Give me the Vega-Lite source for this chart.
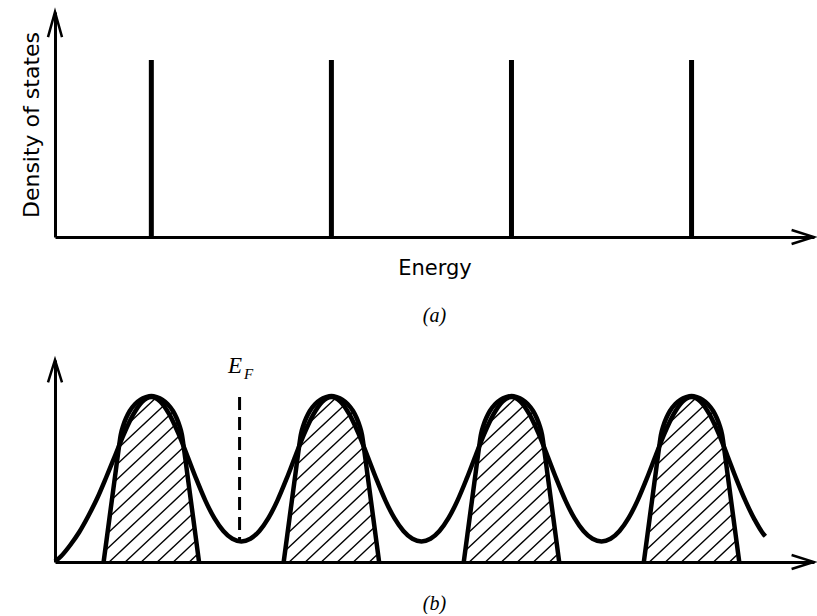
{
  "$schema": "https://vega.github.io/schema/vega-lite/v6.json",
  "background": "white",
  "padding": {"left": 20, "top": 7, "right": 0, "bottom": 0},
  "bounds": "flush",
  "spacing": 123,
  "config": {
    "view": {"stroke": null},
    "axis": {"domain": true, "domainColor": "black", "domainWidth": 3, "ticks": false, "labels": false, "grid": false,
             "titleFont": "DejaVu Sans", "titleFontWeight": "normal", "titleFontSize": 21, "titleColor": "black"},
    "title": {"font": "Liberation Serif", "fontStyle": "italic", "fontWeight": "normal", "fontSize": 20, "color": "black", "anchor": "middle"}
  },
  "datasets": {
    "levels": [
      {"energy": 0, "dos": 7.87}, {"energy": 10, "dos": 7.87}, {"energy": 20, "dos": 7.87}, {"energy": 30, "dos": 7.87}
    ],
    "curve": [
      {"energy": -5.35, "dos": 0.02}, {"energy": -5, "dos": 0.3}, {"energy": -4.5, "dos": 0.85}, {"energy": -4, "dos": 1.5},
      {"energy": -3.5, "dos": 2.3}, {"energy": -3, "dos": 3.2}, {"energy": -2.5, "dos": 4.25}, {"energy": -2, "dos": 5.35},
      {"energy": -1.5, "dos": 6.45}, {"energy": -1, "dos": 7.38}, {"energy": -0.5, "dos": 8.02}, {"energy": 0, "dos": 8.25},
      {"energy": 0.5, "dos": 8.02}, {"energy": 1, "dos": 7.38}, {"energy": 1.5, "dos": 6.43}, {"energy": 2, "dos": 5.3},
      {"energy": 2.5, "dos": 4.14}, {"energy": 3, "dos": 3.07}, {"energy": 3.5, "dos": 2.19}, {"energy": 4, "dos": 1.55},
      {"energy": 4.5, "dos": 1.16}, {"energy": 5, "dos": 1.03}, {"energy": 5.5, "dos": 1.16}, {"energy": 6, "dos": 1.55},
      {"energy": 6.5, "dos": 2.19}, {"energy": 7, "dos": 3.07}, {"energy": 7.5, "dos": 4.14}, {"energy": 8, "dos": 5.3},
      {"energy": 8.5, "dos": 6.43}, {"energy": 9, "dos": 7.38}, {"energy": 9.5, "dos": 8.02}, {"energy": 10, "dos": 8.25},
      {"energy": 10.5, "dos": 8.02}, {"energy": 11, "dos": 7.38}, {"energy": 11.5, "dos": 6.43}, {"energy": 12, "dos": 5.3},
      {"energy": 12.5, "dos": 4.14}, {"energy": 13, "dos": 3.07}, {"energy": 13.5, "dos": 2.19}, {"energy": 14, "dos": 1.55},
      {"energy": 14.5, "dos": 1.16}, {"energy": 15, "dos": 1.03}, {"energy": 15.5, "dos": 1.16}, {"energy": 16, "dos": 1.55},
      {"energy": 16.5, "dos": 2.19}, {"energy": 17, "dos": 3.07}, {"energy": 17.5, "dos": 4.14}, {"energy": 18, "dos": 5.3},
      {"energy": 18.5, "dos": 6.43}, {"energy": 19, "dos": 7.38}, {"energy": 19.5, "dos": 8.02}, {"energy": 20, "dos": 8.25},
      {"energy": 20.5, "dos": 8.02}, {"energy": 21, "dos": 7.38}, {"energy": 21.5, "dos": 6.43}, {"energy": 22, "dos": 5.3},
      {"energy": 22.5, "dos": 4.14}, {"energy": 23, "dos": 3.07}, {"energy": 23.5, "dos": 2.19}, {"energy": 24, "dos": 1.55},
      {"energy": 24.5, "dos": 1.16}, {"energy": 25, "dos": 1.03}, {"energy": 25.5, "dos": 1.16}, {"energy": 26, "dos": 1.55},
      {"energy": 26.5, "dos": 2.19}, {"energy": 27, "dos": 3.07}, {"energy": 27.5, "dos": 4.14}, {"energy": 28, "dos": 5.3},
      {"energy": 28.5, "dos": 6.43}, {"energy": 29, "dos": 7.38}, {"energy": 29.5, "dos": 8.02}, {"energy": 30, "dos": 8.25},
      {"energy": 30.5, "dos": 8.02}, {"energy": 31, "dos": 7.38}, {"energy": 31.5, "dos": 6.43}, {"energy": 32, "dos": 5.29},
      {"energy": 32.5, "dos": 4.12}, {"energy": 33, "dos": 3.04}, {"energy": 33.5, "dos": 2.12}, {"energy": 34, "dos": 1.39},
      {"energy": 34.1, "dos": 1.29}
    ],
    "bands": [
      {"band": 1, "energy": -2.65, "dos": 0}, {"band": 1, "energy": -2.45, "dos": 1.35}, {"band": 1, "energy": -2.2, "dos": 3.04},
      {"band": 1, "energy": -2.0, "dos": 4.39}, {"band": 1, "energy": -1.8, "dos": 5.74}, {"band": 1, "energy": -1.7, "dos": 6.35},
      {"band": 1, "energy": -1.55, "dos": 6.85}, {"band": 1, "energy": -1.4, "dos": 7.2}, {"band": 1, "energy": -1.2, "dos": 7.55},
      {"band": 1, "energy": -0.9, "dos": 7.9}, {"band": 1, "energy": -0.6, "dos": 8.12}, {"band": 1, "energy": -0.3, "dos": 8.24},
      {"band": 1, "energy": 0, "dos": 8.3}, {"band": 1, "energy": 0.3, "dos": 8.24}, {"band": 1, "energy": 0.6, "dos": 8.12},
      {"band": 1, "energy": 0.9, "dos": 7.9}, {"band": 1, "energy": 1.2, "dos": 7.55}, {"band": 1, "energy": 1.4, "dos": 7.2},
      {"band": 1, "energy": 1.55, "dos": 6.85}, {"band": 1, "energy": 1.7, "dos": 6.35}, {"band": 1, "energy": 1.8, "dos": 5.74},
      {"band": 1, "energy": 2.0, "dos": 4.39}, {"band": 1, "energy": 2.2, "dos": 3.04}, {"band": 1, "energy": 2.45, "dos": 1.35},
      {"band": 1, "energy": 2.65, "dos": 0},
      {"band": 2, "energy": 7.35, "dos": 0}, {"band": 2, "energy": 7.55, "dos": 1.35}, {"band": 2, "energy": 7.8, "dos": 3.04},
      {"band": 2, "energy": 8.0, "dos": 4.39}, {"band": 2, "energy": 8.2, "dos": 5.74}, {"band": 2, "energy": 8.3, "dos": 6.35},
      {"band": 2, "energy": 8.45, "dos": 6.85}, {"band": 2, "energy": 8.6, "dos": 7.2}, {"band": 2, "energy": 8.8, "dos": 7.55},
      {"band": 2, "energy": 9.1, "dos": 7.9}, {"band": 2, "energy": 9.4, "dos": 8.12}, {"band": 2, "energy": 9.7, "dos": 8.24},
      {"band": 2, "energy": 10, "dos": 8.3}, {"band": 2, "energy": 10.3, "dos": 8.24}, {"band": 2, "energy": 10.6, "dos": 8.12},
      {"band": 2, "energy": 10.9, "dos": 7.9}, {"band": 2, "energy": 11.2, "dos": 7.55}, {"band": 2, "energy": 11.4, "dos": 7.2},
      {"band": 2, "energy": 11.55, "dos": 6.85}, {"band": 2, "energy": 11.7, "dos": 6.35}, {"band": 2, "energy": 11.8, "dos": 5.74},
      {"band": 2, "energy": 12.0, "dos": 4.39}, {"band": 2, "energy": 12.2, "dos": 3.04}, {"band": 2, "energy": 12.45, "dos": 1.35},
      {"band": 2, "energy": 12.65, "dos": 0},
      {"band": 3, "energy": 17.35, "dos": 0}, {"band": 3, "energy": 17.55, "dos": 1.35}, {"band": 3, "energy": 17.8, "dos": 3.04},
      {"band": 3, "energy": 18.0, "dos": 4.39}, {"band": 3, "energy": 18.2, "dos": 5.74}, {"band": 3, "energy": 18.3, "dos": 6.35},
      {"band": 3, "energy": 18.45, "dos": 6.85}, {"band": 3, "energy": 18.6, "dos": 7.2}, {"band": 3, "energy": 18.8, "dos": 7.55},
      {"band": 3, "energy": 19.1, "dos": 7.9}, {"band": 3, "energy": 19.4, "dos": 8.12}, {"band": 3, "energy": 19.7, "dos": 8.24},
      {"band": 3, "energy": 20, "dos": 8.3}, {"band": 3, "energy": 20.3, "dos": 8.24}, {"band": 3, "energy": 20.6, "dos": 8.12},
      {"band": 3, "energy": 20.9, "dos": 7.9}, {"band": 3, "energy": 21.2, "dos": 7.55}, {"band": 3, "energy": 21.4, "dos": 7.2},
      {"band": 3, "energy": 21.55, "dos": 6.85}, {"band": 3, "energy": 21.7, "dos": 6.35}, {"band": 3, "energy": 21.8, "dos": 5.74},
      {"band": 3, "energy": 22.0, "dos": 4.39}, {"band": 3, "energy": 22.2, "dos": 3.04}, {"band": 3, "energy": 22.45, "dos": 1.35},
      {"band": 3, "energy": 22.65, "dos": 0},
      {"band": 4, "energy": 27.35, "dos": 0}, {"band": 4, "energy": 27.55, "dos": 1.35}, {"band": 4, "energy": 27.8, "dos": 3.04},
      {"band": 4, "energy": 28.0, "dos": 4.39}, {"band": 4, "energy": 28.2, "dos": 5.74}, {"band": 4, "energy": 28.3, "dos": 6.35},
      {"band": 4, "energy": 28.45, "dos": 6.85}, {"band": 4, "energy": 28.6, "dos": 7.2}, {"band": 4, "energy": 28.8, "dos": 7.55},
      {"band": 4, "energy": 29.1, "dos": 7.9}, {"band": 4, "energy": 29.4, "dos": 8.12}, {"band": 4, "energy": 29.7, "dos": 8.24},
      {"band": 4, "energy": 30, "dos": 8.3}, {"band": 4, "energy": 30.3, "dos": 8.24}, {"band": 4, "energy": 30.6, "dos": 8.12},
      {"band": 4, "energy": 30.9, "dos": 7.9}, {"band": 4, "energy": 31.2, "dos": 7.55}, {"band": 4, "energy": 31.4, "dos": 7.2},
      {"band": 4, "energy": 31.55, "dos": 6.85}, {"band": 4, "energy": 31.7, "dos": 6.35}, {"band": 4, "energy": 31.8, "dos": 5.74},
      {"band": 4, "energy": 32.0, "dos": 4.39}, {"band": 4, "energy": 32.2, "dos": 3.04}, {"band": 4, "energy": 32.45, "dos": 1.35},
      {"band": 4, "energy": 32.65, "dos": 0}
    ],
    "hatch": [
      {"band": 1, "energy": 2.11, "dos": 0, "energy2": 2.59, "dos2": 0.41},
      {"band": 1, "energy": 1.22, "dos": 0, "energy2": 2.49, "dos2": 1.08},
      {"band": 1, "energy": 0.33, "dos": 0, "energy2": 2.39, "dos2": 1.74},
      {"band": 1, "energy": -0.56, "dos": 0, "energy2": 2.29, "dos2": 2.41},
      {"band": 1, "energy": -1.45, "dos": 0, "energy2": 2.19, "dos2": 3.08},
      {"band": 1, "energy": -2.34, "dos": 0, "energy2": 2.09, "dos2": 3.75},
      {"band": 1, "energy": -2.57, "dos": 0.56, "energy2": 2.0, "dos2": 4.42},
      {"band": 1, "energy": -2.44, "dos": 1.42, "energy2": 1.9, "dos2": 5.09},
      {"band": 1, "energy": -2.31, "dos": 2.27, "energy2": 1.8, "dos2": 5.75},
      {"band": 1, "energy": -2.19, "dos": 3.13, "energy2": 1.68, "dos2": 6.41},
      {"band": 1, "energy": -2.06, "dos": 4.0, "energy2": 1.49, "dos2": 7.0},
      {"band": 1, "energy": -1.93, "dos": 4.86, "energy2": 1.22, "dos2": 7.52},
      {"band": 1, "energy": -1.8, "dos": 5.72, "energy2": 0.84, "dos2": 7.95},
      {"band": 1, "energy": -1.62, "dos": 6.63, "energy2": 0.29, "dos2": 8.24},
      {"band": 2, "energy": 12.11, "dos": 0, "energy2": 12.59, "dos2": 0.41},
      {"band": 2, "energy": 11.22, "dos": 0, "energy2": 12.49, "dos2": 1.08},
      {"band": 2, "energy": 10.33, "dos": 0, "energy2": 12.39, "dos2": 1.74},
      {"band": 2, "energy": 9.44, "dos": 0, "energy2": 12.29, "dos2": 2.41},
      {"band": 2, "energy": 8.55, "dos": 0, "energy2": 12.19, "dos2": 3.08},
      {"band": 2, "energy": 7.66, "dos": 0, "energy2": 12.09, "dos2": 3.75},
      {"band": 2, "energy": 7.43, "dos": 0.56, "energy2": 12.0, "dos2": 4.42},
      {"band": 2, "energy": 7.56, "dos": 1.42, "energy2": 11.9, "dos2": 5.09},
      {"band": 2, "energy": 7.69, "dos": 2.27, "energy2": 11.8, "dos2": 5.75},
      {"band": 2, "energy": 7.81, "dos": 3.13, "energy2": 11.68, "dos2": 6.41},
      {"band": 2, "energy": 7.94, "dos": 4.0, "energy2": 11.49, "dos2": 7.0},
      {"band": 2, "energy": 8.07, "dos": 4.86, "energy2": 11.22, "dos2": 7.52},
      {"band": 2, "energy": 8.2, "dos": 5.72, "energy2": 10.84, "dos2": 7.95},
      {"band": 2, "energy": 8.38, "dos": 6.63, "energy2": 10.29, "dos2": 8.24},
      {"band": 3, "energy": 22.11, "dos": 0, "energy2": 22.59, "dos2": 0.41},
      {"band": 3, "energy": 21.22, "dos": 0, "energy2": 22.49, "dos2": 1.08},
      {"band": 3, "energy": 20.33, "dos": 0, "energy2": 22.39, "dos2": 1.74},
      {"band": 3, "energy": 19.44, "dos": 0, "energy2": 22.29, "dos2": 2.41},
      {"band": 3, "energy": 18.55, "dos": 0, "energy2": 22.19, "dos2": 3.08},
      {"band": 3, "energy": 17.66, "dos": 0, "energy2": 22.09, "dos2": 3.75},
      {"band": 3, "energy": 17.43, "dos": 0.56, "energy2": 22.0, "dos2": 4.42},
      {"band": 3, "energy": 17.56, "dos": 1.42, "energy2": 21.9, "dos2": 5.09},
      {"band": 3, "energy": 17.69, "dos": 2.27, "energy2": 21.8, "dos2": 5.75},
      {"band": 3, "energy": 17.81, "dos": 3.13, "energy2": 21.68, "dos2": 6.41},
      {"band": 3, "energy": 17.94, "dos": 4.0, "energy2": 21.49, "dos2": 7.0},
      {"band": 3, "energy": 18.07, "dos": 4.86, "energy2": 21.22, "dos2": 7.52},
      {"band": 3, "energy": 18.2, "dos": 5.72, "energy2": 20.84, "dos2": 7.95},
      {"band": 3, "energy": 18.38, "dos": 6.63, "energy2": 20.29, "dos2": 8.24},
      {"band": 4, "energy": 32.11, "dos": 0, "energy2": 32.59, "dos2": 0.41},
      {"band": 4, "energy": 31.22, "dos": 0, "energy2": 32.49, "dos2": 1.08},
      {"band": 4, "energy": 30.33, "dos": 0, "energy2": 32.39, "dos2": 1.74},
      {"band": 4, "energy": 29.44, "dos": 0, "energy2": 32.29, "dos2": 2.41},
      {"band": 4, "energy": 28.55, "dos": 0, "energy2": 32.19, "dos2": 3.08},
      {"band": 4, "energy": 27.66, "dos": 0, "energy2": 32.09, "dos2": 3.75},
      {"band": 4, "energy": 27.43, "dos": 0.56, "energy2": 32.0, "dos2": 4.42},
      {"band": 4, "energy": 27.56, "dos": 1.42, "energy2": 31.9, "dos2": 5.09},
      {"band": 4, "energy": 27.69, "dos": 2.27, "energy2": 31.8, "dos2": 5.75},
      {"band": 4, "energy": 27.81, "dos": 3.13, "energy2": 31.68, "dos2": 6.41},
      {"band": 4, "energy": 27.94, "dos": 4.0, "energy2": 31.49, "dos2": 7.0},
      {"band": 4, "energy": 28.07, "dos": 4.86, "energy2": 31.22, "dos2": 7.52},
      {"band": 4, "energy": 28.2, "dos": 5.72, "energy2": 30.84, "dos2": 7.95},
      {"band": 4, "energy": 28.38, "dos": 6.63, "energy2": 30.29, "dos2": 8.24}
    ],
    "fermi": [{"energy": 4.9, "dos": 8.25, "dos2": 1.1}],
    "labelE": [{"energy": 4.65, "dos": 9.45, "label": "E"}],
    "labelF": [{"energy": 5.15, "dos": 9.15, "label": "F"}]
  },
  "vconcat": [
    {
      "width": 759,
      "height": 225,
      "title": {"text": "(a)", "orient": "bottom", "offset": 28},
      "encoding": {
        "x": {"field": "energy", "type": "quantitative", "scale": {"domain": [-5.35, 36.8], "nice": false, "zero": false},
              "axis": {"title": "Energy", "titlePadding": 20}},
        "y": {"field": "dos", "type": "quantitative", "scale": {"domain": [0, 10], "nice": false, "zero": false},
              "axis": {"title": "Density of states", "titlePadding": 12, "titleFontSize": 22}}
      },
      "layer": [
        {"data": {"name": "levels"}, "mark": {"type": "rule", "strokeWidth": 5, "color": "black"},
         "encoding": {"y2": {"datum": 0}}},
        {"data": {"values": [{"energy": -5.35, "dos": 10}]},
         "mark": {"type": "point", "shape": "M -1 3.6 L 0 0 L 1 3.6", "size": 196, "filled": false, "stroke": "black", "strokeWidth": 2.5, "opacity": 1}},
        {"data": {"values": [{"energy": 36.8, "dos": 0}]},
         "mark": {"type": "point", "shape": "M -3.2 -1 L 0 0 L -3.2 1", "size": 196, "filled": false, "stroke": "black", "strokeWidth": 2.5, "opacity": 1}}
      ]
    },
    {
      "width": 759,
      "height": 202,
      "title": {"text": "(b)", "orient": "bottom", "offset": 20},
      "encoding": {
        "x": {"field": "energy", "type": "quantitative", "scale": {"domain": [-5.35, 36.8], "nice": false, "zero": false},
              "axis": {"title": null}},
        "y": {"field": "dos", "type": "quantitative", "scale": {"domain": [0, 10.1], "nice": false, "zero": false},
              "axis": {"title": null}}
      },
      "layer": [
        {"data": {"name": "hatch"}, "mark": {"type": "rule", "strokeWidth": 1.4, "color": "black"},
         "encoding": {"x2": {"field": "energy2"}, "y2": {"field": "dos2"}}},
        {"data": {"name": "bands"}, "mark": {"type": "line", "strokeWidth": 4.5, "color": "black", "interpolate": "monotone"},
         "encoding": {"detail": {"field": "band"}}},
        {"data": {"name": "curve"}, "mark": {"type": "line", "strokeWidth": 4.5, "color": "black", "interpolate": "monotone"}},
        {"data": {"name": "fermi"}, "mark": {"type": "rule", "strokeWidth": 3, "color": "black", "strokeDash": [13, 7]},
         "encoding": {"y2": {"field": "dos2"}}},
        {"data": {"name": "labelE"}, "mark": {"type": "text", "font": "Liberation Serif", "fontStyle": "italic", "fontSize": 23, "align": "center", "baseline": "alphabetic", "color": "black"},
         "encoding": {"text": {"field": "label"}}},
        {"data": {"name": "labelF"}, "mark": {"type": "text", "font": "Liberation Serif", "fontStyle": "italic", "fontSize": 15, "align": "left", "baseline": "alphabetic", "color": "black"},
         "encoding": {"text": {"field": "label"}}},
        {"data": {"values": [{"energy": -5.35, "dos": 10.1}]},
         "mark": {"type": "point", "shape": "M -1 3.2 L 0 0 L 1 3.2", "size": 196, "filled": false, "stroke": "black", "strokeWidth": 2.5, "opacity": 1}},
        {"data": {"values": [{"energy": 36.8, "dos": 0}]},
         "mark": {"type": "point", "shape": "M -3.2 -1 L 0 0 L -3.2 1", "size": 196, "filled": false, "stroke": "black", "strokeWidth": 2.5, "opacity": 1}}
      ]
    }
  ]
}
